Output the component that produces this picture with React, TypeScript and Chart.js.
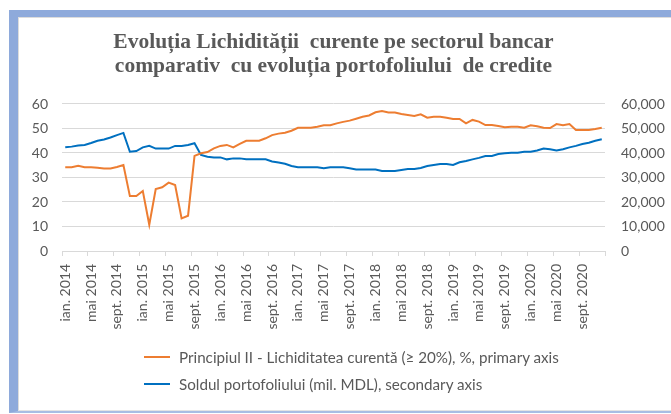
import React, { useEffect, useRef } from 'react';
import { Chart, registerables } from 'chart.js';

Chart.register(...registerables);

const MONTHS = ['ian.', 'feb.', 'mar.', 'apr.', 'mai', 'iun.', 'iul.', 'aug.', 'sept.', 'oct.', 'nov.', 'dec.'];
const YEARS = [2014, 2015, 2016, 2017, 2018, 2019, 2020];
const CATEGORIES = YEARS.flatMap((y) => MONTHS.map((m) => `${m} ${y}`));

const TICK_LABELS = [
  'ian. 2014', 'mai 2014', 'sept. 2014',
  'ian. 2015', 'mai 2015', 'sept. 2015',
  'ian. 2016', 'mai 2016', 'sept. 2016',
  'ian. 2017', 'mai 2017', 'sept. 2017',
  'ian. 2018', 'mai 2018', 'sept. 2018',
  'ian. 2019', 'mai 2019', 'sept. 2019',
  'ian. 2020', 'mai 2020', 'sept. 2020',
];

// Principiul II - Lichiditatea curentă, %
const LIQUIDITY = [
  34.2, 34.2, 34.8, 34.2, 34.2, 34.0, 33.7, 33.7, 34.3, 35.1,
  22.4, 22.4, 24.5, 10.7, 25.3, 26.0, 27.9, 26.9, 13.3, 14.4,
  38.8, 39.9, 40.4, 41.9, 42.9, 43.3, 42.3, 43.7, 45.0, 45.0,
  45.0, 46.0, 47.3, 47.9, 48.3, 49.1, 50.3, 50.3, 50.3, 50.7,
  51.3, 51.3, 52.1, 52.7, 53.2, 54.0, 54.8, 55.3, 56.6, 57.1,
  56.5, 56.5, 55.9, 55.5, 55.1, 55.8, 54.4, 54.8, 54.8, 54.4,
  53.9, 53.9, 52.1, 53.5, 52.8, 51.4, 51.4, 51.0, 50.5, 50.7,
  50.7, 50.3, 51.3, 50.9, 50.3, 50.2, 51.8, 51.3, 51.8, 49.4,
  49.4, 49.4, 49.8, 50.3,
];

// Soldul portofoliului, mil. MDL
const PORTFOLIO = [
  42300, 42600, 43100, 43300, 44100, 45000, 45500, 46300, 47300, 48200,
  40500, 40800, 42300, 42900, 41800, 41800, 41800, 42900, 42900, 43300,
  44000, 39200, 38500, 38200, 38200, 37400, 37800, 37800, 37400, 37400,
  37400, 37400, 36500, 36100, 35600, 34700, 34200, 34200, 34200, 34200,
  33800, 34200, 34200, 34200, 33800, 33300, 33300, 33300, 33300, 32700,
  32700, 32700, 33100, 33500, 33500, 33900, 34700, 35100, 35500, 35500,
  35100, 36200, 36700, 37400, 38000, 38800, 38800, 39600, 39900, 40100,
  40100, 40500, 40500, 41000, 41800, 41500, 41000, 41500, 42300, 42900,
  43700, 44200, 45000, 45600,
];

const SERIES_NAMES = [
  'Principiul II - Lichiditatea curentă (≥ 20%), %, primary axis',
  'Soldul portofoliului (mil. MDL), secondary axis',
];
const SERIES_COLORS = ['#ED7D31', '#0070C0'];

const TITLE_LINES = [
  'Evoluția Lichidității  curente pe sectorul bancar',
  'comparativ  cu evoluția portofoliului  de credite',
];

const TEXT_COLOR = '#595959';
const GRID_COLOR = '#D9D9D9';
const SANS = 'Lato, "Open Sans", sans-serif';

export default function App() {
  const canvasRef = useRef<HTMLCanvasElement | null>(null);

  useEffect(() => {
    const canvas = canvasRef.current;
    if (!canvas) return;
    const chart = new Chart(canvas, {
      type: 'line',
      data: {
        labels: CATEGORIES,
        datasets: [
          {
            label: SERIES_NAMES[0],
            data: LIQUIDITY,
            borderColor: SERIES_COLORS[0],
            backgroundColor: SERIES_COLORS[0],
            borderWidth: 2,
            pointRadius: 0,
            tension: 0,
            yAxisID: 'y',
          },
          {
            label: SERIES_NAMES[1],
            data: PORTFOLIO,
            borderColor: SERIES_COLORS[1],
            backgroundColor: SERIES_COLORS[1],
            borderWidth: 2,
            pointRadius: 0,
            tension: 0,
            yAxisID: 'y1',
          },
        ],
      },
      options: {
        animation: false,
        responsive: false,
        devicePixelRatio: 1,
        layout: { padding: { left: 20, right: 0, top: 0, bottom: 83 } },
        plugins: {
          legend: { display: false },
          tooltip: { enabled: false },
          title: {
            display: true,
            text: TITLE_LINES,
            fullSize: false,
            color: TEXT_COLOR,
            font: { family: '"Liberation Serif", "Times New Roman", serif', size: 21.5, weight: 'bold', lineHeight: 1.116 },
            padding: { top: 30, bottom: 26 },
          },
        },
        scales: {
          x: {
            type: 'category',
            offset: true,
            afterFit: (s: any) => { s.height = 80; },
            grid: {
              offset: true,
              drawOnChartArea: false,
              drawTicks: true,
              tickLength: 5,
              lineWidth: 1,
              color: (c: any) => (c.type !== 'tick' || c.index % 4 === 0 ? GRID_COLOR : 'rgba(0,0,0,0)'),
            },
            border: { display: true, color: GRID_COLOR, width: 1 },
            ticks: {
              autoSkip: false,
              minRotation: 90,
              maxRotation: 90,
              padding: 8,
              color: TEXT_COLOR,
              font: { family: SANS, size: 14 },
              callback: (_v: any, i: number) => (TICK_LABELS.includes(CATEGORIES[i]) ? CATEGORIES[i] : ''),
            },
          },
          y: {
            type: 'linear',
            position: 'left',
            min: 0,
            max: 60,
            afterFit: (s: any) => { s.width = 42; },
            grid: { color: GRID_COLOR, drawTicks: false, lineWidth: 1 },
            border: { display: false },
            ticks: {
              stepSize: 10,
              padding: 14,
              color: TEXT_COLOR,
              font: { family: SANS, size: 14 },
            },
          },
          y1: {
            type: 'linear',
            position: 'right',
            min: 0,
            max: 60000,
            afterFit: (s: any) => { s.width = 66; },
            grid: { drawOnChartArea: false, drawTicks: false },
            border: { display: false },
            ticks: {
              stepSize: 10000,
              padding: 16,
              color: TEXT_COLOR,
              font: { family: SANS, size: 14 },
              callback: (v: any) => Number(v).toLocaleString('en-US'),
            },
          },
        },
      },
    });
    return () => chart.destroy();
  }, []);

  const legendTop = [357, 384];

  return (
    <div style={{ position: 'fixed', left: 0, top: 0, width: 671, height: 414, background: '#fff', overflow: 'hidden' }}>
      <div
        style={{
          position: 'absolute', left: 9, top: 10, width: 720, height: 403, boxSizing: 'border-box',
          borderLeft: '9px solid #8EAADB', borderTop: '7px solid #8EAADB', borderBottom: '2px solid #A8BDE3',
        }}
      >
        <div style={{ position: 'absolute', left: 0, top: 0, right: 0, bottom: 0, borderLeft: '1px solid #DCDCDC', borderTop: '1px solid #DCDCDC', borderBottom: '1px solid #E4E4E4' }} />
      </div>
      <canvas ref={canvasRef} width={671} height={414} style={{ position: 'absolute', left: 0, top: 0, width: 671, height: 414 }} />
      {SERIES_NAMES.map((name, i) => (
        <div key={name} style={{ position: 'absolute', left: 144, top: legendTop[i] - 10, height: 20, display: 'flex', alignItems: 'center', whiteSpace: 'nowrap' }}>
          <div style={{ width: 26, height: 2, background: SERIES_COLORS[i], marginRight: 9 }} />
          <span style={{ fontFamily: SANS, fontSize: 15.2, color: TEXT_COLOR, lineHeight: '20px' }}>{name}</span>
        </div>
      ))}
    </div>
  );
}
